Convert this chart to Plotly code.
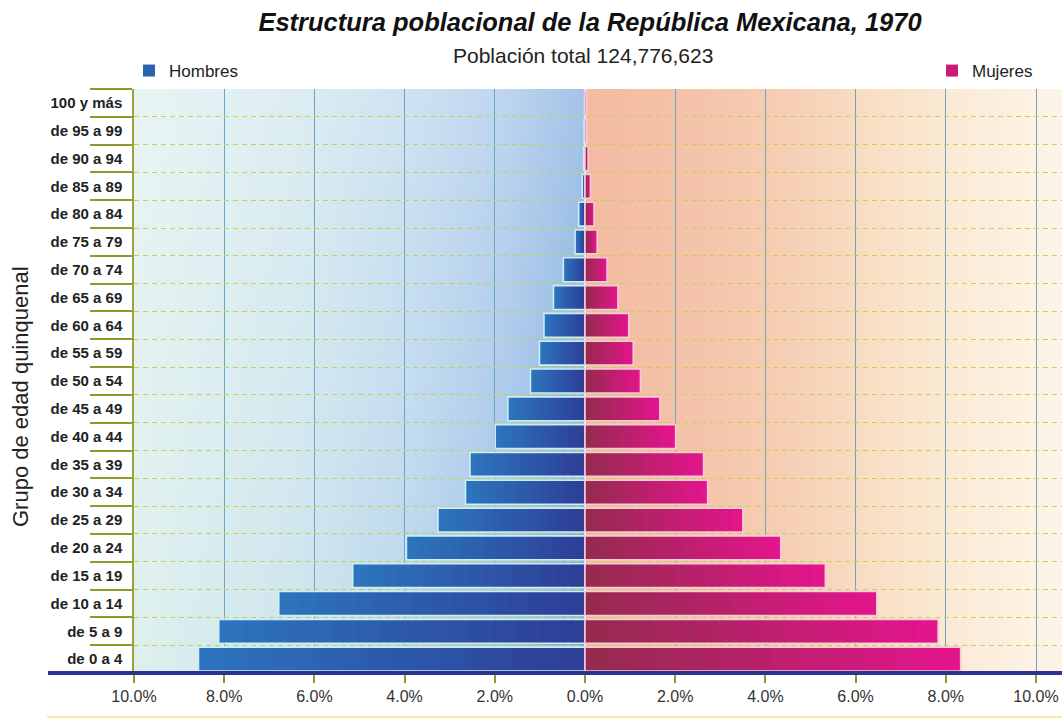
import base64
import plotly.graph_objects as go

# ---------------- data ----------------
age_groups = ["de 0 a 4", "de 5 a 9", "de 10 a 14", "de 15 a 19", "de 20 a 24",
              "de 25 a 29", "de 30 a 34", "de 35 a 39", "de 40 a 44", "de 45 a 49",
              "de 50 a 54", "de 55 a 59", "de 60 a 64", "de 65 a 69", "de 70 a 74",
              "de 75 a 79", "de 80 a 84", "de 85 a 89", "de 90 a 94", "de 95 a 99",
              "100 y más"]
hombres_pct = [8.57, 8.12, 6.79, 5.15, 3.96, 3.26, 2.65, 2.55, 1.99, 1.71,
               1.21, 1.01, 0.91, 0.70, 0.48, 0.22, 0.14, 0.06, 0.03, 0.02, 0.01]
mujeres_pct = [8.33, 7.83, 6.47, 5.33, 4.34, 3.50, 2.72, 2.63, 2.01, 1.66,
               1.23, 1.07, 0.97, 0.73, 0.49, 0.27, 0.20, 0.12, 0.07, 0.04, 0.04]
tick_vals = [-10, -8, -6, -4, -2, 0, 2, 4, 6, 8, 10]
tick_text = ["10.0%", "8.0%", "6.0%", "4.0%", "2.0%", "0.0%",
             "2.0%", "4.0%", "6.0%", "8.0%", "10.0%"]

TITLE = "Estructura poblacional de la República Mexicana, 1970"
SUBTITLE = "Población total 124,776,623"
YTITLE = "Grupo de edad quinquenal"

FONT = "Liberation Sans, Arial, Helvetica, sans-serif"

W, H = 1062, 719
ML, MR, MT, MB = 134, 0, 89, 46
PW, PH = W - ML - MR, H - MT - MB


def hex2rgb(h):
    h = h.lstrip("#")
    return tuple(int(h[i:i + 2], 16) for i in (0, 2, 4))


def mix(c1, c2, t):
    a, b = hex2rgb(c1), hex2rgb(c2)
    return "rgb(%d,%d,%d)" % tuple(round(a[i] + (b[i] - a[i]) * t) for i in range(3))


# ---------------- background gradient (svg data uri) ----------------
stops = [(0.0, "#def0ee"), (0.18, "#cde5ed"), (0.30, "#b9d6ec"), (0.40, "#a1c3e8"),
         (0.46, "#88b2e1"), (0.485, "#7eaadf"), (0.487, "#f3bba2"), (0.60, "#f4c3a9"),
         (0.70, "#f6ceb3"), (0.80, "#f9dfc5"), (0.90, "#fbecd9"), (1.0, "#fdf4e8")]
stop_xml = "".join('<stop offset="%.3f" stop-color="%s"/>' % s for s in stops)
svg = ('<svg xmlns="http://www.w3.org/2000/svg" width="%d" height="%d" viewBox="0 0 %d %d" '
       'preserveAspectRatio="none"><defs><linearGradient id="g" x1="0" y1="0" x2="1" y2="0">%s'
       '</linearGradient><linearGradient id="v" x1="0" y1="0" x2="0" y2="1">'
       '<stop offset="0" stop-color="#ffffff" stop-opacity="0.30"/>'
       '<stop offset="1" stop-color="#ffffff" stop-opacity="0"/></linearGradient></defs>'
       '<rect width="%d" height="%d" fill="url(#g)"/>'
       '<rect width="%d" height="%d" fill="url(#v)"/></svg>'
       % (PW, PH, PW, PH, stop_xml, PW, PH, int(PW * 0.486), PH))
bg_src = "data:image/svg+xml;base64," + base64.b64encode(svg.encode()).decode()

# ---------------- bars (stepped gradient) ----------------
fig = go.Figure()
N = 16
series = [
    ("Hombres", hombres_pct, -1, "#2d74bd", "#2d3f97", "#c9eef6", "legend"),
    ("Mujeres", mujeres_pct, 1, "#e2158b", "#962a4f", "#f8c9d8", "legend2"),
]
for name, vals, sign, outer, inner, edge, leg in series:
    for k in range(N):
        f = 1 - k / N
        col = mix(outer, inner, k / (N - 1))
        fig.add_trace(go.Bar(
            y=age_groups, x=[sign * v * f for v in vals], orientation="h",
            marker=dict(color=col, line=dict(width=0)),
            name=name, legend=leg, showlegend=(k == N // 3),
            hoverinfo="skip"))
    fig.add_trace(go.Bar(
        y=age_groups, x=[sign * v for v in vals], orientation="h",
        marker=dict(color="rgba(0,0,0,0)", line=dict(color=edge, width=1.6)),
        name=name, showlegend=False, customdata=vals,
        hovertemplate="%{y}: %{customdata:.2f}%<extra>" + name + "</extra>"))

fig.update_layout(
    width=W, height=H,
    margin=dict(l=ML, r=MR, t=MT, b=MB),
    paper_bgcolor="white", plot_bgcolor="rgba(0,0,0,0)",
    barmode="overlay", bargap=0.14,
    font=dict(family=FONT, color="#222222"),
    title=dict(text="<b><i>" + TITLE + "</i></b>", x=(590 / W), xanchor="center",
               y=1 - 22 / H, yanchor="middle",
               font=dict(family=FONT, size=25.5, color="#111111")),
    images=[dict(source=bg_src, xref="paper", yref="paper", x=0, y=1, sizex=1, sizey=1,
                 xanchor="left", yanchor="top", sizing="stretch", layer="below")],
    legend=dict(x=(129 - ML) / PW, xanchor="left", y=1 + (MT - 71) / PH, yanchor="middle",
                bgcolor="rgba(0,0,0,0)", font=dict(family=FONT, size=17, color="#222222"),
                orientation="h"),
    legend2=dict(x=(932 - ML) / PW, xanchor="left", y=1 + (MT - 71) / PH, yanchor="middle",
                 bgcolor="rgba(0,0,0,0)", font=dict(family=FONT, size=17, color="#222222"),
                 orientation="h"),
    xaxis=dict(range=[-10, (W - MR - ML) / 45.1 - 10], tickvals=tick_vals, ticktext=tick_text,
               showgrid=True, gridcolor="#6ea5c6", gridwidth=1,
               zeroline=True, zerolinecolor="#dcf2f7", zerolinewidth=2,
               showline=False, ticks="outside", ticklen=9, tickwidth=1.5, tickcolor="#8f9a2e",
               tickfont=dict(family=FONT, size=16, color="#333333"), fixedrange=True),
    yaxis=dict(type="category", categoryorder="array", categoryarray=age_groups,
               tickson="boundaries", ticks="outside", ticklen=42, tickwidth=1.5,
               tickcolor="#8f9a2e", ticklabelstandoff=7,
               showgrid=True, gridcolor="#c6cf58", gridwidth=1, griddash="5px,4px",
               showline=True, linecolor="#9aa33a", linewidth=1.5,
               tickfont=dict(family=FONT, size=15, color="#222222", weight="bold"),
               fixedrange=True),
    annotations=[
        dict(text=SUBTITLE, xref="paper", yref="paper", x=(583 - ML) / PW,
             y=1 + (MT - 55) / PH, xanchor="center", yanchor="middle", showarrow=False,
             font=dict(family=FONT, size=21, color="#222222")),
        dict(text=YTITLE, xref="paper", yref="paper", x=(20 - ML) / PW, y=(673 - 397) / PH,
             xanchor="center", yanchor="middle", textangle=-90, showarrow=False,
             font=dict(family=FONT, size=22, color="#222222")),
    ],
    shapes=[
        dict(type="line", xref="paper", yref="paper", x0=(48 - ML) / PW, x1=1, y0=0, y1=0,
             line=dict(color="#2e3192", width=4), layer="above"),
        dict(type="line", xref="paper", yref="paper", x0=(47 - ML) / PW, x1=1,
             y0=-(717 - 673) / PH, y1=-(717 - 673) / PH,
             line=dict(color="#f6eaa2", width=2), layer="above"),
    ],
)

fig.write_html("out.html")
